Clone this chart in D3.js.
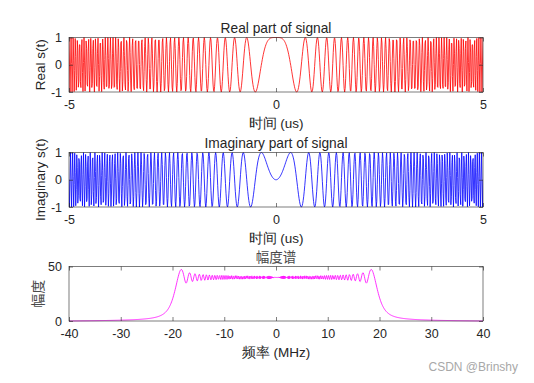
<!DOCTYPE html>
<html><head><meta charset="utf-8">
<script src="https://cdn.jsdelivr.net/npm/d3@7"></script>
<style>
body{margin:0;background:#fff;}
svg text{font-family:"Liberation Sans",Arial,sans-serif;fill:#262626;}
.cjk{font-family:"Noto Sans CJK SC",sans-serif !important;fill:#4a4a4a !important;}
</style></head><body>
<svg id="c" width="534" height="383"></svg>
<script>
// Signal parameters (LFM chirp as in original program)
const pulseWidthUs = [10];
const bandwidthMHz = [40];
const sampleRateMHz = [80];
// Tick labels
const timeTicks = [-5, 0, 5];
const sigTicks = [-1, 0, 1];
const freqTicks = [-40, -30, -20, -10, 0, 10, 20, 30, 40];
const specTicks = [0, 50];
const titles = ["Real part of signal", "Imaginary part of signal", "幅度谱"];
const xLabels = ["时间 (us)", "时间 (us)", "频率 (MHz)"];
const yLabels = ["Real s(t)", "Imaginary s(t)", "幅度"];
const colors = ["#ff0000", "#0000ff", "#ff00ff"];

const T = pulseWidthUs[0], B = bandwidthMHz[0], fs = sampleRateMHz[0];
const K = B / T; // MHz/us
const N = Math.round(T * fs);
const t = d3.range(N).map(i => -T / 2 + i * T / (N - 1));
const re = t.map(v => Math.cos(Math.PI * K * v * v));
const im = t.map(v => Math.sin(Math.PI * K * v * v));
// DFT magnitude, shifted
const mag = new Array(N);
for (let k = 0; k < N; k++) {
  let sr = 0, si = 0;
  for (let n = 0; n < N; n++) {
    const a = -2 * Math.PI * k * n / N;
    const c = Math.cos(a), s = Math.sin(a);
    sr += re[n] * c - im[n] * s;
    si += re[n] * s + im[n] * c;
  }
  mag[k] = Math.hypot(sr, si);
}
const half = Math.floor(N / 2);
const spec = mag.slice(half).concat(mag.slice(0, half));
const f = d3.range(N).map(i => -fs / 2 + i * fs / (N - 1));

const svg = d3.select("#c");
const L = 69, R = 483;
const panels = [
  {top: 37.5, bot: 92, xd: [-5, 5], yd: [-1, 1], xt: timeTicks, yt: sigTicks, xs: t, ys: re},
  {top: 152.5, bot: 207, xd: [-5, 5], yd: [-1, 1], xt: timeTicks, yt: sigTicks, xs: t, ys: im},
  {top: 266.5, bot: 321, xd: [-40, 40], yd: [0, 50], xt: freqTicks, yt: specTicks, xs: f, ys: spec}
];
panels.forEach((p, i) => {
  const x = d3.scaleLinear().domain(p.xd).range([L, R]);
  const y = d3.scaleLinear().domain(p.yd).range([p.bot, p.top]);
  const g = svg.append("g");
  const cid = "clip" + i;
  g.append("clipPath").attr("id", cid).append("rect")
    .attr("x", L).attr("y", p.top - 1).attr("width", R - L).attr("height", p.bot - p.top + 2);
  g.append("path").datum(d3.range(p.xs.length))
    .attr("clip-path", `url(#${cid})`)
    .attr("fill", "none").attr("stroke", colors[i]).attr("stroke-width", 0.8)
    .attr("d", d3.line().x(j => x(p.xs[j])).y(j => y(p.ys[j])));
  // box
  g.append("rect").attr("x", L).attr("y", p.top).attr("width", R - L).attr("height", p.bot - p.top)
    .attr("fill", "none").attr("stroke", "#262626").attr("stroke-width", 0.6);
  // axes
  const ax = d3.axisBottom(x).tickValues(p.xt).tickSize(-4).tickPadding(8).tickFormat(d3.format("d"));
  const axT = d3.axisTop(x).tickValues(p.xt).tickSize(-4).tickFormat("");
  const ay = d3.axisLeft(y).tickValues(p.yt).tickSize(-4).tickPadding(7).tickFormat(d3.format("d"));
  const ayR = d3.axisRight(y).tickValues(p.yt).tickSize(-4).tickFormat("");
  [[ax, `translate(0,${p.bot})`], [axT, `translate(0,${p.top})`], [ay, `translate(${L},0)`], [ayR, `translate(${R},0)`]]
    .forEach(([a, tr]) => {
      const gg = g.append("g").attr("transform", tr).call(a);
      gg.select(".domain").remove();
      gg.selectAll("line").attr("stroke", "#262626").attr("stroke-width", 0.6);
      gg.selectAll("text").attr("font-size", 12.5).attr("fill", "#262626")
        .text(function(d){ const s = d3.select(this).text(); return s.replace("−", "-"); });
    });
  const isCjkTitle = /[\u4e00-\u9fff]/.test(titles[i]);
  g.append("text").attr("x", (L + R) / 2).attr("y", p.top - 5).attr("text-anchor", "middle")
    .attr("font-size", isCjkTitle ? 13.5 : 13.75).attr("class", isCjkTitle ? "cjk" : null).text(titles[i]);
  g.append("text").attr("x", (L + R) / 2).attr("y", p.bot + 35.5).attr("text-anchor", "middle")
    .attr("font-size", 13.5).text(xLabels[i]);
  const isCjkY = /[\u4e00-\u9fff]/.test(yLabels[i]);
  g.append("text").attr("transform", `translate(${isCjkY ? 43 : 45},${(p.top + p.bot) / 2}) rotate(-90)`)
    .attr("text-anchor", "middle").attr("font-size", isCjkY ? 14 : 13.5)
    .attr("class", isCjkY ? "cjk" : null).text(yLabels[i]);
});
svg.append("text").attr("x", 518).attr("y", 371).attr("text-anchor", "end")
  .attr("font-size", 12).style("fill", "#a8a8a8").text("CSDN @Brinshy");
</script></body></html>
